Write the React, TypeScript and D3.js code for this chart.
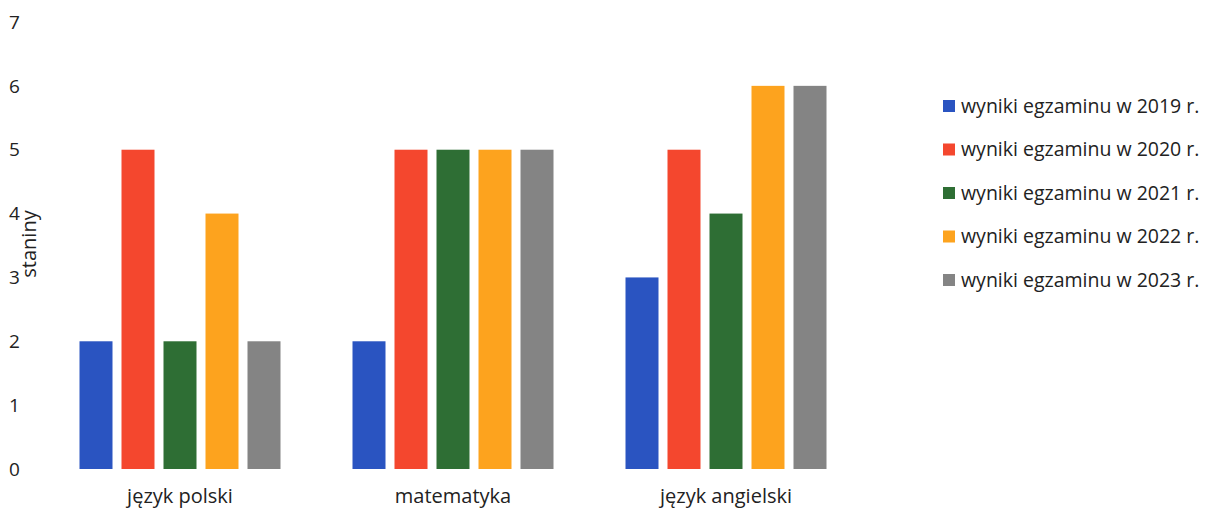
import React from "react";
import * as d3 from "d3";

const categories = ["język polski", "matematyka", "język angielski"];
const seriesNames = [
  "wyniki egzaminu w 2019 r.",
  "wyniki egzaminu w 2020 r.",
  "wyniki egzaminu w 2021 r.",
  "wyniki egzaminu w 2022 r.",
  "wyniki egzaminu w 2023 r.",
];
const values2019 = [2, 2, 3];
const values2020 = [5, 5, 5];
const values2021 = [2, 5, 4];
const values2022 = [4, 5, 6];
const values2023 = [2, 5, 6];
const yTicks = [0, 1, 2, 3, 4, 5, 6, 7];
const colors = ["#2a54c1", "#f4472e", "#2e6e34", "#fda31e", "#848484"];

const allSeries = [values2019, values2020, values2021, values2022, values2023];

export default function App() {
  const W = 1210;
  const H = 511;
  const y = d3.scaleLinear().domain([0, 7]).range([469, 22]);
  const x0 = d3
    .scaleBand<string>()
    .domain(categories)
    .range([43.5, 862.5])
    .paddingInner(72 / 273)
    .paddingOuter(36 / 273);
  const x1 = d3
    .scaleBand<number>()
    .domain(d3.range(seriesNames.length))
    .range([0, x0.bandwidth()])
    .paddingInner(9 / 42);
  const font = "'Open Sans', 'DejaVu Sans', sans-serif";
  return (
    <svg width={W} height={H} style={{ position: "absolute", left: 0, top: 0, background: "#fff" }} fontFamily={font}>
      <rect width={W} height={H} fill="#fff" />
      {yTicks.map((t) => (
        <text key={t} x={9} y={y(t)} dy="0.35em" fontSize={19} fill="#222">
          {t}
        </text>
      ))}
      <text
        transform={`translate(29, 244) rotate(-90)`}
        textAnchor="middle"
        dy="0.35em"
        fontSize={20}
        fill="#222"
      >
        staniny
      </text>
      {categories.map((c, ci) => (
        <g key={c} transform={`translate(${x0(c)},0)`}>
          {allSeries.map((vals, si) => (
            <rect
              key={si}
              x={x1(si)}
              y={y(vals[ci])}
              width={x1.bandwidth()}
              height={y(0) - y(vals[ci])}
              fill={colors[si]}
            />
          ))}
          <text
            x={x0.bandwidth() / 2}
            y={503}
            textAnchor="middle"
            fontSize={20}
            fill="#222"
          >
            {c}
          </text>
        </g>
      ))}
      {seriesNames.map((s, i) => {
        const cy = 106 + i * 43.5;
        return (
          <g key={s}>
            <rect x={943} y={cy - 6} width={12} height={12} fill={colors[i]} />
            <text x={961} y={cy} dy="0.35em" fontSize={19.5} fill="#222">
              {s}
            </text>
          </g>
        );
      })}
    </svg>
  );
}
